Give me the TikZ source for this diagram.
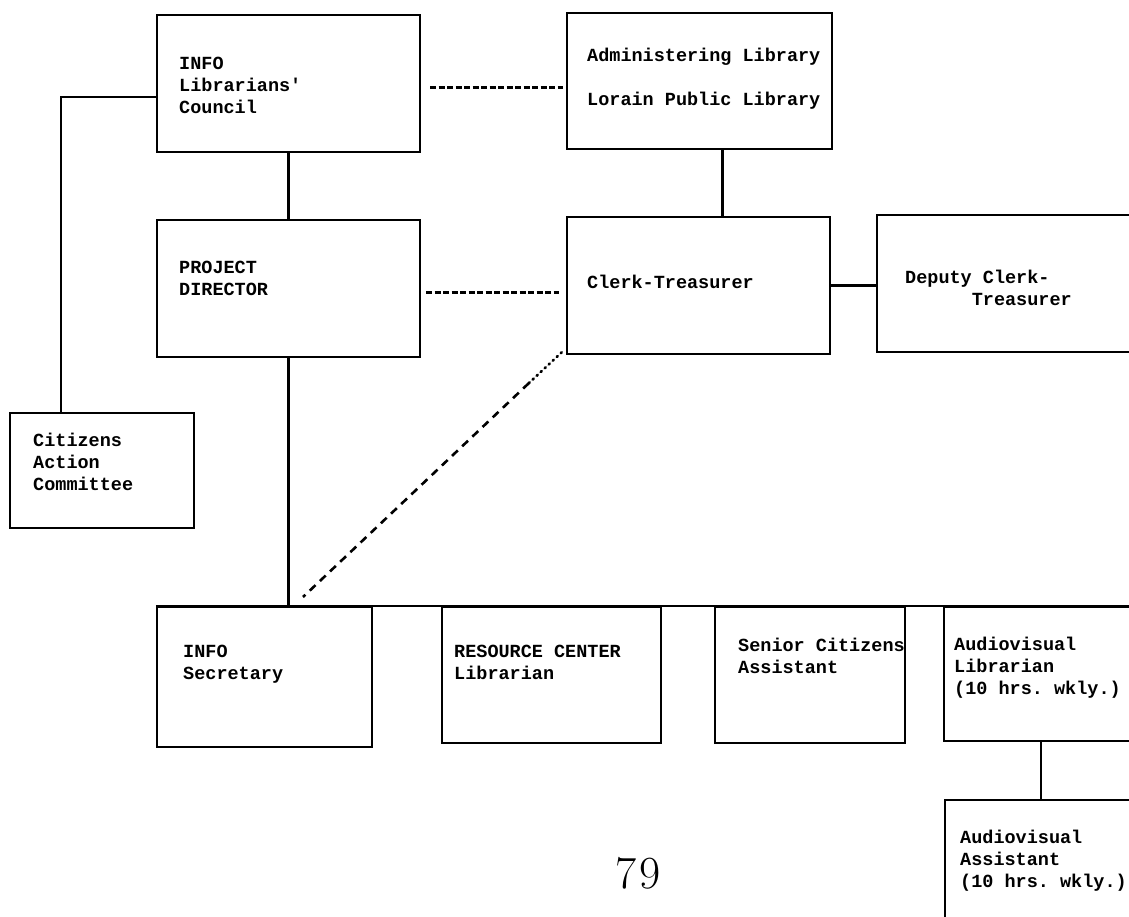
\documentclass[tikz,border=0pt]{standalone}
\usepackage{fontspec}
\setmonofont{Liberation Mono}
\usetikzlibrary{fit}
\begin{document}
\begin{tikzpicture}[x=1pt,y=-1pt,
  unit/.style={draw, line width=2.4pt, inner sep=0pt},
  caption/.style={anchor=north west, align=left, inner sep=0pt,
    font=\ttfamily\bfseries\fontsize{18.5}{22}\selectfont},
  link/.style={line width=2.6pt},
  dashlink/.style={line width=2.2pt, dash pattern=on 6pt off 2.5pt},
  dotlink/.style={line width=2.6pt, line cap=round, dash pattern=on 1.5pt off 4pt}]
  \useasboundingbox (0,0) rectangle (1129,917);
  \fill[white] (0,0) rectangle (1129,917);
  \clip (0,0) rectangle (1129,917);

  % upper row
  \node[unit, fit={(157,15) (420,152)}] (lc) {};
  \node[caption] (lc-t) at (179,57) {INFO\\Librarians'\\Council};
  \node[unit, fit={(567,13) (832,149)}] (admin) {};
  \node[caption] (admin-t) at (587,48) {Administering Library\\ \\Lorain Public Library};

  % middle row
  \node[unit, fit={(157,220) (420,357)}] (pd) {};
  \node[caption] (pd-t) at (179,261) {PROJECT\\DIRECTOR};
  \node[unit, fit={(567,217) (830,354)}] (clerk) {};
  \node[caption] (clerk-t) at (587,275) {Clerk-Treasurer};
  \node[unit, fit={(877,215) (1160,352)}] (deputy) {};
  \node[caption] (deputy-t) at (905,270) {Deputy Clerk-\\\phantom{Deputy}Treasurer};

  \node[unit, fit={(10,413) (194,528)}] (cac) {};
  \node[caption] (cac-t) at (33,433) {Citizens\\Action\\Committee};

  % staff row
  \node[unit, fit={(157,607) (372,747)}] (sec) {};
  \node[caption] (sec-t) at (183,645) {INFO\\Secretary};
  \node[unit, fit={(442,607) (661,743)}] (rc) {};
  \node[caption] (rc-t) at (454,645) {RESOURCE CENTER\\Librarian};
  \node[unit, fit={(715,607) (905,743)}] (sc) {};
  \node[caption] (sc-t) at (738,638) {Senior Citizens\\Assistant};
  \node[unit, fit={(944,607) (1138,741)}] (avl) {};
  \node[caption] (avl-t) at (954,637) {Audiovisual\\Librarian\\(10 hrs. wkly.)};
  \node[unit, fit={(945,800) (1137,960)}] (ava) {};
  \node[caption] (ava-t) at (960,830) {Audiovisual\\Assistant\\(10 hrs. wkly.)};

  \node[font=\fontsize{46}{50}\selectfont] (page) at (638,873) {7\kern3pt 9};

  % connectors
  \coordinate (cacjoin) at (61,97);
  \draw[link] (lc.west |- cacjoin) -- (cacjoin) -- (cacjoin |- cac.north);
  \draw[link] (lc.south) -- (pd.north);
  \draw[link] (pd.south) -- (pd.south |- sec.north);
  \draw[link] (sec.north west) -- (avl.north east);
  \draw[link] ([xshift=23pt]admin.south) -- ([xshift=23pt]admin.south |- clerk.north);
  \draw[link] (clerk.east) -- (clerk.east -| deputy.west);
  \draw[link] (avl.south) -- (ava.north);
  \draw[dashlink, shorten <=9pt, shorten >=3pt] ([yshift=-4pt]lc.east) -- ([yshift=-4pt]lc.east -| admin.west);
  \draw[dashlink, shorten <=5pt, shorten >=7pt] ([yshift=-4pt]pd.east) -- ([yshift=-4pt]pd.east -| clerk.west);
  \coordinate (dotend) at (529,383);
  \coordinate (dashend) at (303,597);
  \draw[dotlink] ([shift={(-4pt,3pt)}]clerk.south west) -- (dotend);
  \draw[dashlink, line width=2.6pt, dash pattern=on 8pt off 6pt] (dotend) -- (dashend);
\end{tikzpicture}
\end{document}
